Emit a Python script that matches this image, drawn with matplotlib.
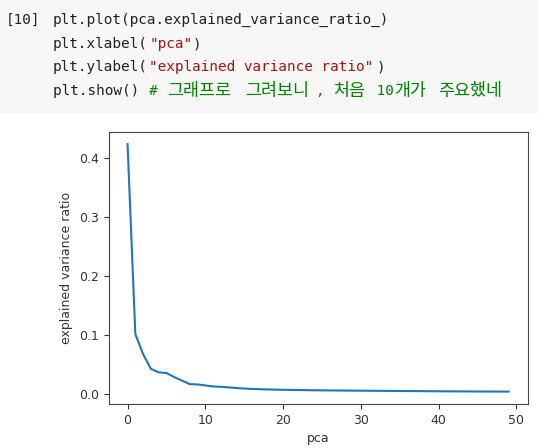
import matplotlib
matplotlib.use("Agg")
import matplotlib.pyplot as plt
from matplotlib.patches import Rectangle

# ---- data -------------------------------------------------------------
explained_variance_ratio = [
    0.424, 0.101, 0.067, 0.042, 0.036, 0.035, 0.028, 0.022, 0.016, 0.0155,
    0.0138, 0.0122, 0.0114, 0.0105, 0.0094, 0.0086, 0.0079, 0.0074, 0.0070, 0.0067,
    0.0064, 0.0062, 0.0060, 0.0058, 0.0056, 0.0055, 0.0053, 0.0052, 0.0051, 0.0050,
    0.0049, 0.0048, 0.0047, 0.0046, 0.0045, 0.0044, 0.0043, 0.0042, 0.0041, 0.0040,
    0.0039, 0.0038, 0.0037, 0.0037, 0.0036, 0.0035, 0.0035, 0.0034, 0.0034, 0.0033,
]
components = list(range(len(explained_variance_ratio)))
x_label = "pca"
y_label = "explained variance ratio"

prompt = "[10]"
code_lines = [
    [("plt.plot(pca.explained_variance_ratio_)", "k")],
    [("plt.xlabel(", "k"), ('"pca"', "s"), (")", "k")],
    [("plt.ylabel(", "k"), ('"explained variance ratio"', "s"), (")", "k")],
    [("plt.show() ", "k"), ("# 그래프로 그려보니, 처음 10개가 주요했네", "c")],
]

# ---- layout -----------------------------------------------------------
W, H = 538, 448
fig = plt.figure(figsize=(W / 100, H / 100), dpi=100)
fig.patch.set_facecolor("white")

def fx(px):
    return px / W

def fy(py):
    return 1 - py / H

fig.add_artist(Rectangle((0, fy(113)), 1, 113 / H, transform=fig.transFigure,
                         facecolor="#f7f7f7", edgecolor="none", zorder=0))

colors = {"k": "#212121", "s": "#a31515", "c": "#008000"}
cw = 8.75
mono = "DejaVu Sans Mono"
kfont = "Noto Sans CJK KR"
baselines = [24, 48, 71.5, 95]

def is_wide(ch):
    return ord(ch) >= 0x1100

def draw_line(segs, x0, yb):
    cells = 0
    for text, ckey in segs:
        col = colors[ckey]
        i = 0
        while i < len(text):
            wide = is_wide(text[i])
            j = i
            while j < len(text) and is_wide(text[j]) == wide:
                j += 1
            run = text[i:j]
            if wide:
                fig.text(fx(x0 + cells * cw), fy(yb + 1), run, family=[kfont],
                         fontsize=12.5, color=col, va="baseline", ha="left")
                cells += 2 * len(run)
            else:
                fig.text(fx(x0 + cells * cw), fy(yb), run, family=[mono, kfont],
                         fontsize=10.4, color=col, va="baseline", ha="left")
                cells += len(run)
            i = j

draw_line([(prompt, "k")], 6, baselines[0])
for segs, yb in zip(code_lines, baselines):
    draw_line(segs, 53, yb)

# ---- chart ------------------------------------------------------------
left, right, top, bottom = 108.5, 527.7, 131.7, 404
ax = fig.add_axes([fx(left), fy(bottom), (right - left) / W, (bottom - top) / H])
ax.plot(components, explained_variance_ratio, color="#1f77b4", linewidth=1.5)
ax.set_xlabel(x_label, fontsize=9, color="#333333")
ax.set_ylabel(y_label, fontsize=9, color="#333333")
ax.tick_params(labelsize=9, colors="#333333")
for sp in ax.spines.values():
    sp.set_color("#444444")
ax.set_yticks([0.0, 0.1, 0.2, 0.3, 0.4])

fig.savefig("out.png", dpi=100)
